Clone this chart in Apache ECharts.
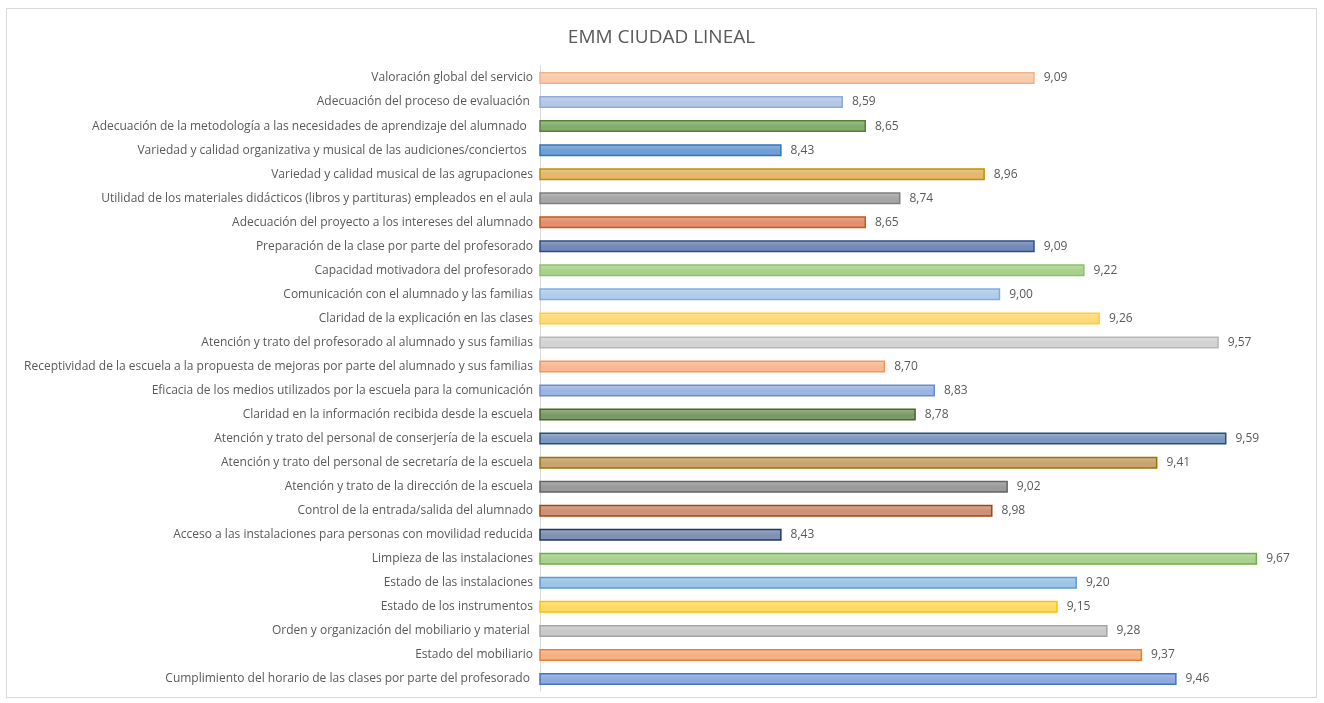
<!DOCTYPE html>
<html>
<head>
<meta charset="utf-8">
<script src="https://cdn.jsdelivr.net/npm/echarts@6/dist/echarts.min.js"></script>
<style>
  html, body { margin: 0; padding: 0; background: #fff; }
  #chart { position: absolute; left: 6px; top: 8px; width: 1311px; height: 690px; border: 1px solid #d9d9d9; box-sizing: border-box; }
</style>
</head>
<body>
<div id="chart"></div>
<script>
// categories from top to bottom
const categories = [
  'Valoración global del servicio',
  'Adecuación del proceso de evaluación ',
  'Adecuación de la metodología a las necesidades de aprendizaje del alumnado  ',
  'Variedad y calidad organizativa y musical de las audiciones/conciertos  ',
  'Variedad y calidad musical de las agrupaciones',
  'Utilidad de los materiales didácticos (libros y partituras) empleados en el aula',
  'Adecuación del proyecto a los intereses del alumnado',
  'Preparación de la clase por parte del profesorado',
  'Capacidad motivadora del profesorado',
  'Comunicación con el alumnado y las familias',
  'Claridad de la explicación en las clases',
  'Atención y trato del profesorado al alumnado y sus familias',
  'Receptividad de la escuela a la propuesta de mejoras por parte del alumnado y sus familias',
  'Eficacia de los medios utilizados por la escuela para la comunicación',
  'Claridad en la información recibida desde la escuela',
  'Atención y trato del personal de conserjería de la escuela',
  'Atención y trato del personal de secretaría de la escuela',
  'Atención y trato de la dirección de la escuela',
  'Control de la entrada/salida del alumnado',
  'Acceso a las instalaciones para personas con movilidad reducida',
  'Limpieza de las instalaciones',
  'Estado de las instalaciones',
  'Estado de los instrumentos',
  'Orden y organización del mobiliario y material ',
  'Estado del mobiliario',
  'Cumplimiento del horario de las clases por parte del profesorado '
]
const values = [
  9.09, 8.59, 8.65, 8.43, 8.96, 8.74, 8.65, 9.09, 9.22, 9.00, 9.26, 9.57, 8.70,
  8.83, 8.78, 9.59, 9.41, 9.02, 8.98, 8.43, 9.67, 9.20, 9.15, 9.28, 9.37, 9.46
]
// fill / border per bar, same order
const fills = [
  '#F8CBAD', '#B4C7E7', '#84AC6C', '#6F9FD6', '#E3B76C', '#A6A6A6', '#E38F70',
  '#7389B9', '#A9D18E', '#B0CDEC', '#FFDA7A', '#D3D3D3', '#F8B894', '#9DB4E0',
  '#7C9A66', '#7D98BE', '#C8A56E', '#9A9A9A', '#CF8F78', '#8091B2', '#A9D18E',
  '#9DC3E6', '#FFD966', '#C9C9C9', '#F4B183', '#8FAADC'
]
const borders = [
  '#F4B183', '#8FAADC', '#548235', '#2E75B6', '#BF8F00', '#7F7F7F', '#C55A11',
  '#2F4C8A', '#8CC168', '#7CAFDD', '#FFCD33', '#B7B7B7', '#F1975A', '#698ED0',
  '#43682B', '#264E78', '#997300', '#636363', '#9E480E', '#1F3864', '#70AD47',
  '#5B9BD5', '#FFC000', '#A5A5A5', '#ED7D31', '#4472C4'
]

function lighten (hex, k) {
  const n = parseInt(hex.slice(1), 16)
  const r = (n >> 16) & 255
  const g = (n >> 8) & 255
  const b = n & 255
  const f = c => Math.round(c + (255 - c) * k)
  return 'rgb(' + f(r) + ',' + f(g) + ',' + f(b) + ')'
}

const chart = echarts.init(document.getElementById('chart'))
const txt = '#595959'
const font = 'Open Sans, sans-serif'

chart.setOption({
  animation: false,
  title: {
    text: 'EMM CIUDAD LINEAL',
    left: 'center',
    top: 14,
    textStyle: { color: txt, fontSize: 19, fontWeight: 'normal', fontFamily: font }
  },
  grid: { left: 533, right: 9, top: 57, bottom: 6 },
  xAxis: {
    type: 'value',
    min: 7.8,
    max: 9.8,
    show: false
  },
  yAxis: {
    type: 'category',
    inverse: true,
    data: categories,
    axisLine: { show: true, lineStyle: { color: '#D9D9D9' } },
    axisTick: { show: false },
    axisLabel: { color: txt, fontSize: 12, fontFamily: font, margin: 7 }
  },
  series: [{
    type: 'bar',
    barWidth: 12,
    data: values.map((v, i) => ({
      value: v,
      itemStyle: {
        color: {
          type: 'linear', x: 0, y: 0, x2: 0, y2: 1,
          colorStops: [
            { offset: 0, color: lighten(fills[i], 0.25) },
            { offset: 0.5, color: fills[i] },
            { offset: 1, color: fills[i] }
          ]
        },
        borderColor: borders[i],
        borderWidth: 1.5
      }
    })),
    label: {
      show: true,
      position: 'right',
      distance: 9,
      color: txt,
      fontSize: 12,
      fontFamily: font,
      formatter: p => p.value.toFixed(2).replace('.', ',')
    }
  }]
})
</script>
</body>
</html>
